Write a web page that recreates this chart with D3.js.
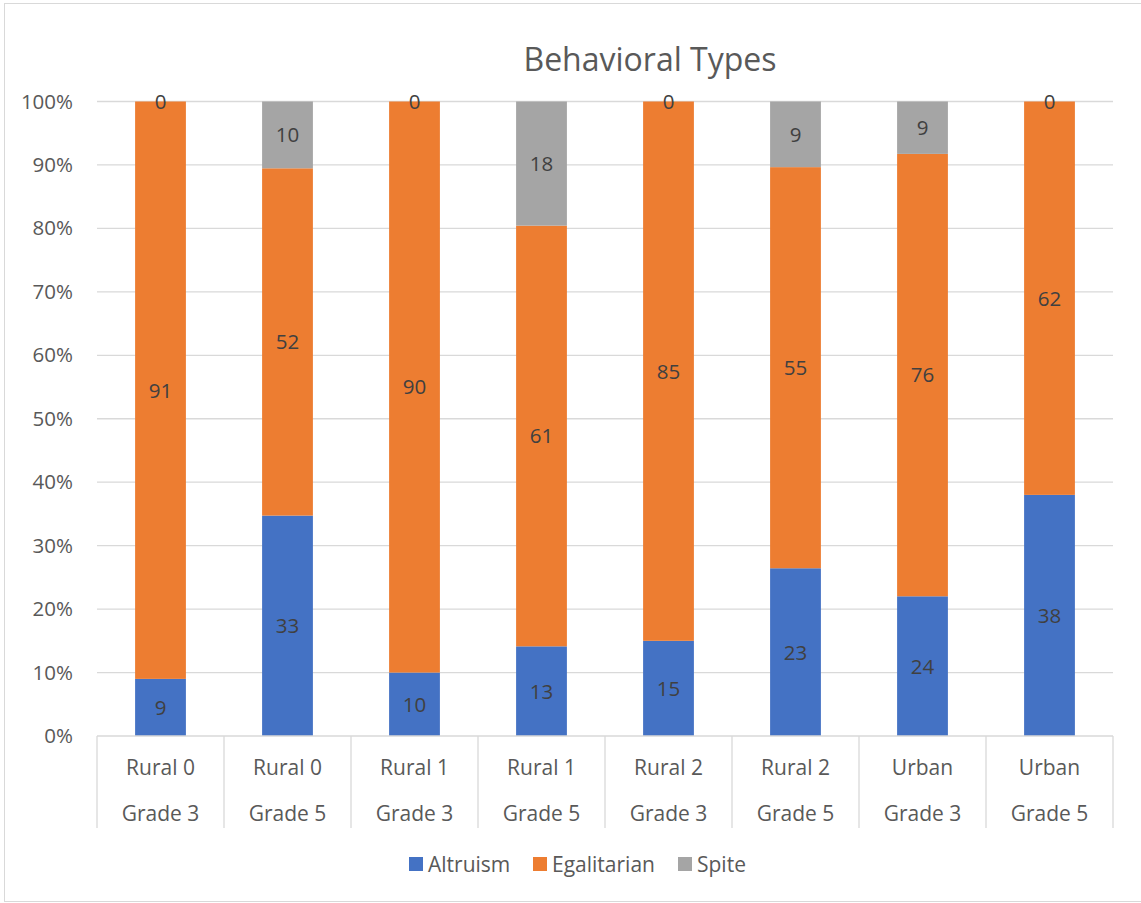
<!DOCTYPE html>
<html><head><meta charset="utf-8">
<script src="https://cdn.jsdelivr.net/npm/d3@7"></script>
<style>html,body{margin:0;padding:0;background:#fff;}svg{display:block;font-family:"Open Sans",sans-serif;}</style>
</head><body>
<svg id="c" width="1141" height="903"></svg>
<script>
const categoriesTop = ["Rural 0","Rural 0","Rural 1","Rural 1","Rural 2","Rural 2","Urban","Urban"];
const categoriesBottom = ["Grade 3","Grade 5","Grade 3","Grade 5","Grade 3","Grade 5","Grade 3","Grade 5"];
const altruism = [9,33,10,13,15,23,24,38];
const egalitarian = [91,52,90,61,85,55,76,62];
const spite = [0,10,0,18,0,9,9,0];
const seriesNames = ["Altruism","Egalitarian","Spite"];
const seriesColors = ["#4472C4","#ED7D31","#A5A5A5"];
const yTicks = [0,0.1,0.2,0.3,0.4,0.5,0.6,0.7,0.8,0.9,1.0];
const chartTitle = "Behavioral Types";

(function(){
const svg = d3.select("#c");
const pL = 97, pR = 1113, pT = 101.5, pB = 736;
const txt = "#595959";
const fs = 20.5;

svg.append("rect").attr("x",4.5).attr("y",3.5).attr("width",1145).attr("height",898).attr("fill","#fff").attr("stroke","#D9D9D9");

const idx = d3.range(categoriesTop.length);
const x = d3.scaleBand().domain(idx).range([pL,pR]).paddingInner(0.6).paddingOuter(0.3);
const xOuter = d3.scaleBand().domain(idx).range([pL,pR]);
const y = d3.scaleLinear().domain([0,1]).range([pB,pT]);

svg.append("g").selectAll("line").data(yTicks.slice(1)).join("line")
  .attr("x1",pL).attr("x2",pR).attr("y1",d=>y(d)).attr("y2",d=>y(d))
  .attr("stroke","#D9D9D9").attr("stroke-width",1.3);

const yAxis = d3.axisLeft(y).tickValues(yTicks).tickFormat(d3.format(".0%")).tickSize(0).tickPadding(0);
const ga = svg.append("g").attr("transform",`translate(${pL-24},0)`).call(yAxis);
ga.select(".domain").remove();
ga.selectAll("text").attr("fill",txt).attr("font-size",fs).attr("font-family","Open Sans");

const rows = idx.map(i=>{
  const tot = altruism[i]+egalitarian[i]+spite[i];
  return {i, Altruism:altruism[i]/tot, Egalitarian:egalitarian[i]/tot, Spite:spite[i]/tot,
    raw:{Altruism:altruism[i],Egalitarian:egalitarian[i],Spite:spite[i]}};
});
const stack = d3.stack().keys(seriesNames)(rows);
const color = d3.scaleOrdinal().domain(seriesNames).range(seriesColors);

stack.forEach(s=>{
  svg.append("g").selectAll("rect").data(s).join("rect")
    .attr("x",d=>x(d.data.i)).attr("width",x.bandwidth())
    .attr("y",d=>y(d[1])).attr("height",d=>y(d[0])-y(d[1]))
    .attr("fill",color(s.key));
});
stack.forEach(s=>{
  svg.append("g").selectAll("text").data(s).join("text")
    .attr("x",d=>x(d.data.i)+x.bandwidth()/2)
    .attr("y",d=>(y(d[0])+y(d[1]))/2)
    .attr("dy","0.36em")
    .attr("text-anchor","middle").attr("fill","#404040").attr("font-size",fs)
    .text(d=>d.data.raw[s.key]);
});

svg.append("line").attr("x1",pL).attr("x2",pR).attr("y1",pB).attr("y2",pB).attr("stroke","#D9D9D9").attr("stroke-width",1.3);
const seps = idx.map(i=>xOuter(i)).concat([pR]);
svg.append("g").selectAll("line").data(seps).join("line")
  .attr("x1",d=>d).attr("x2",d=>d).attr("y1",pB).attr("y2",828)
  .attr("stroke","#D9D9D9").attr("stroke-width",1.3);
const xc = svg.append("g");
xc.selectAll("text.t").data(idx).join("text").attr("class","t")
  .attr("x",i=>xOuter(i)+xOuter.bandwidth()/2).attr("y",767).attr("dy","0.36em")
  .attr("text-anchor","middle").attr("fill",txt).attr("font-size",21).text(i=>categoriesTop[i]);
xc.selectAll("text.b").data(idx).join("text").attr("class","b")
  .attr("x",i=>xOuter(i)+xOuter.bandwidth()/2).attr("y",813).attr("dy","0.36em")
  .attr("text-anchor","middle").attr("fill",txt).attr("font-size",21).text(i=>categoriesBottom[i]);

svg.append("text").attr("x",650).attr("y",59).attr("dy","0.36em").attr("text-anchor","middle")
  .attr("fill",txt).attr("font-size",32).text(chartTitle);

const legX = [409,533,678];
const lg = svg.append("g");
seriesNames.forEach((n,k)=>{
  lg.append("rect").attr("x",legX[k]).attr("y",857).attr("width",14).attr("height",14).attr("fill",seriesColors[k]);
  lg.append("text").attr("x",legX[k]+19).attr("y",864).attr("dy","0.36em").attr("fill",txt).attr("font-size",21).text(n);
});
})();
</script>
</body></html>
